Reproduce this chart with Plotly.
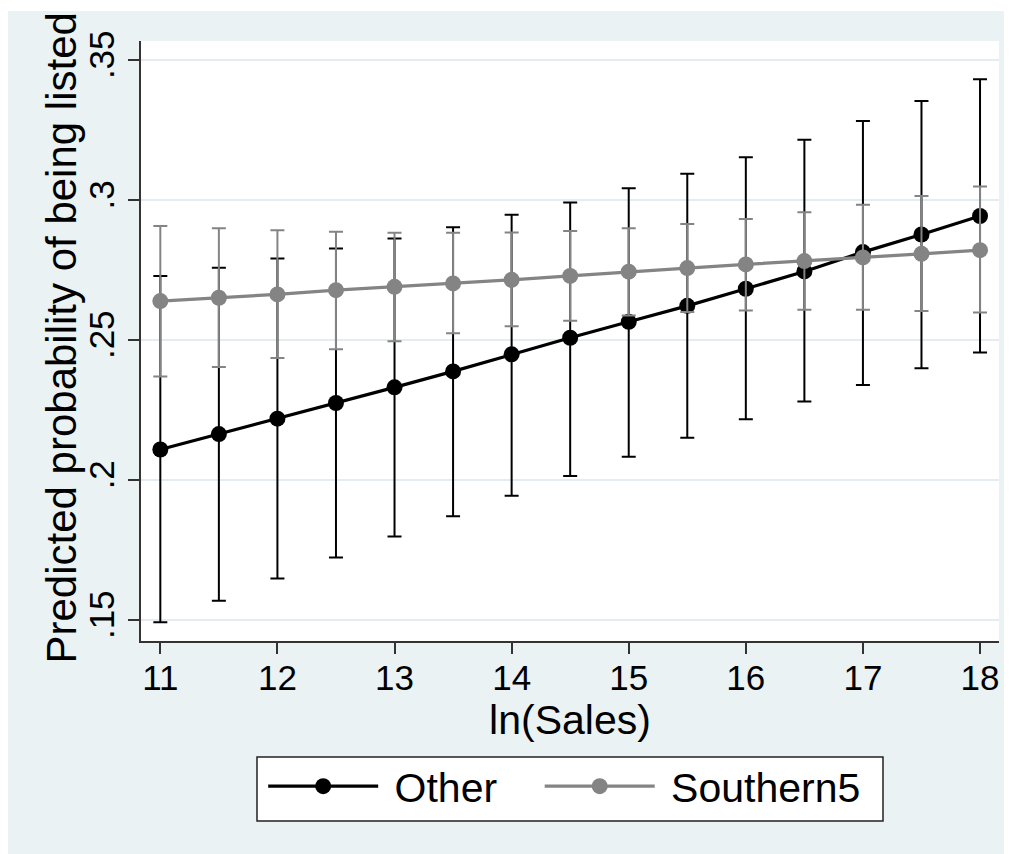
import plotly.graph_objects as go

# ---------------- data ----------------
ln_sales = [11, 11.5, 12, 12.5, 13, 13.5, 14, 14.5, 15, 15.5, 16, 16.5, 17, 17.5, 18]

other_p = [0.2109, 0.2164, 0.2219, 0.2275, 0.2331, 0.2388, 0.2449, 0.2508,
           0.2565, 0.2622, 0.2683, 0.2745, 0.2814, 0.2877, 0.2943]
other_hi = [0.2729, 0.2758, 0.2791, 0.2827, 0.2863, 0.2903, 0.2947, 0.2991,
            0.3042, 0.3094, 0.3153, 0.3215, 0.3282, 0.3354, 0.3431]
other_lo = [0.1492, 0.1569, 0.1648, 0.1723, 0.1798, 0.1871, 0.1944, 0.2014,
            0.2083, 0.2151, 0.2217, 0.2280, 0.2339, 0.2399, 0.2455]

south_p = [0.2639, 0.2651, 0.2663, 0.2678, 0.2690, 0.2702, 0.2715, 0.2729,
           0.2744, 0.2757, 0.2770, 0.2782, 0.2795, 0.2808, 0.2821]
south_hi = [0.2907, 0.2899, 0.2892, 0.2887, 0.2883, 0.2883, 0.2884, 0.2889,
            0.2899, 0.2914, 0.2932, 0.2956, 0.2983, 0.3014, 0.3048]
south_lo = [0.2370, 0.2404, 0.2436, 0.2467, 0.2496, 0.2524, 0.2549, 0.2569,
            0.2588, 0.2600, 0.2605, 0.2608, 0.2608, 0.2604, 0.2598]

x_ticks = [11, 12, 13, 14, 15, 16, 17, 18]
y_tickvals = [0.15, 0.2, 0.25, 0.3, 0.35]
y_ticktext = [".15", ".2", ".25", ".3", ".35"]

series_names = ["Other", "Southern5"]
x_title = "ln(Sales)"
y_title = "Predicted probability of being listed"

# ---------------- style ----------------
FONT = "Arial, 'Liberation Sans', sans-serif"
BG = "#EAF2F3"
GRID = "#E3EDF0"
BLACK = "#000000"
GRAY = "#848484"


def err(mid, hi, lo):
    return dict(
        type="data", symmetric=False,
        array=[h - m for h, m in zip(hi, mid)],
        arrayminus=[m - l for m, l in zip(mid, lo)],
    )


fig = go.Figure()
for name, mid, hi, lo, col, leg in [
    (series_names[0], other_p, other_hi, other_lo, BLACK, "legend"),
    (series_names[1], south_p, south_hi, south_lo, GRAY, "legend2"),
]:
    e = err(mid, hi, lo)
    e.update(color=col, thickness=2, width=7)
    fig.add_trace(go.Scatter(
        x=ln_sales, y=mid, name=" " + name, mode="lines+markers",
        line=dict(color=col, width=3.2),
        marker=dict(color=col, size=16),
        error_y=e, legend=leg,
    ))

# thin white strip at the top edge of the picture
fig.add_shape(type="rect", xref="paper", yref="paper", layer="below",
              x0=-0.17, x1=1.02, y0=1.05, y1=1.06,
              fillcolor="white", line=dict(width=0))
# legend frame
fig.add_shape(type="rect", xref="paper", yref="paper", layer="below",
              x0=0.1352, x1=0.8648, y0=-0.1933, y1=-0.300,
              fillcolor="white", line=dict(color="#222222", width=1.5))

# y-axis title
fig.add_annotation(text=y_title, xref="paper", yref="paper",
                   x=-0.0938, y=0.505, xanchor="center", yanchor="middle",
                   textangle=-90, showarrow=False,
                   font=dict(size=42, family=FONT, color="black"))

leg_common = dict(
    orientation="h", xanchor="left", yanchor="top",
    bgcolor="rgba(0,0,0,0)", borderwidth=0,
    font=dict(size=41, family=FONT, color="black"),
    itemwidth=110, itemclick=False, itemdoubleclick=False,
)

fig.update_layout(
    width=1004, height=846,
    margin=dict(l=133, r=13, t=33, b=213, autoexpand=False),
    paper_bgcolor=BG, plot_bgcolor="white",
    font=dict(family=FONT, color="black"),
    showlegend=True,
    legend=dict(x=0.1424, y=-0.1867, **leg_common),
    legend2=dict(x=0.4647, y=-0.1867, **leg_common),
    xaxis=dict(
        range=[10.835, 18.162], tickvals=x_ticks,
        showgrid=False, zeroline=False,
        showline=True, linecolor="#333333", linewidth=2,
        ticks="outside", ticklen=11, tickwidth=2, tickcolor="#333333",
        tickfont=dict(size=35, family=FONT), ticklabelstandoff=-6,
        title=dict(text=x_title, font=dict(size=41, family=FONT), standoff=2),
    ),
    yaxis=dict(
        range=[0.1425, 0.3568], tickvals=y_tickvals, ticktext=y_ticktext,
        tickangle=-90,
        showgrid=True, gridcolor=GRID, gridwidth=2, zeroline=False,
        showline=True, linecolor="#333333", linewidth=2,
        ticks="outside", ticklen=11, tickwidth=2, tickcolor="#333333",
        tickfont=dict(size=35, family=FONT),
    ),
)

fig.write_html("out.html")
